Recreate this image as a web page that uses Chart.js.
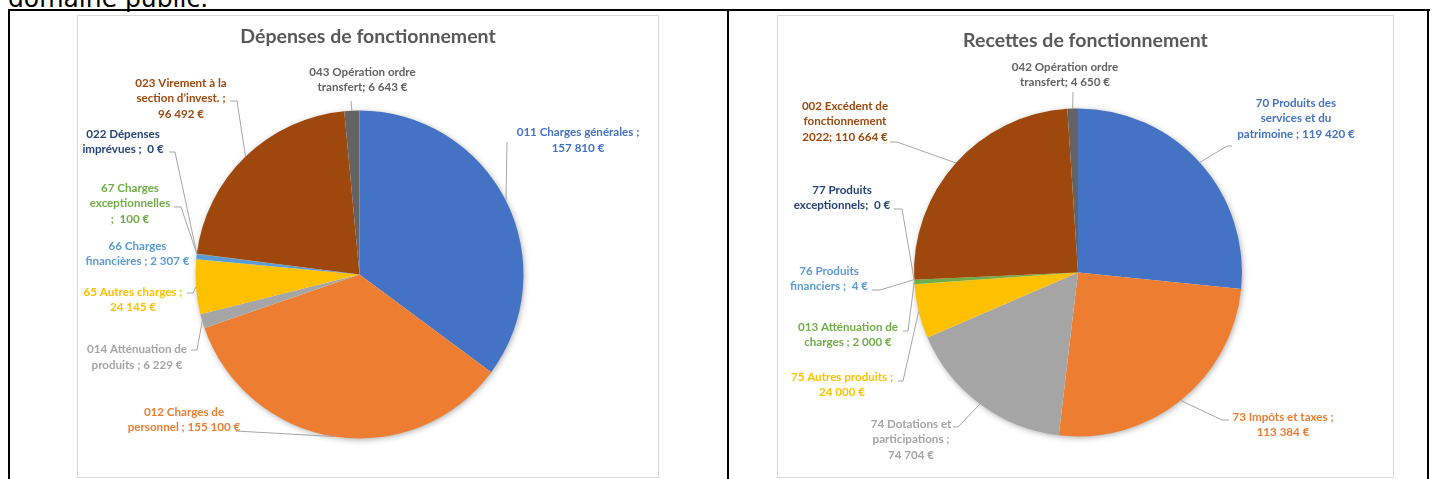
<!DOCTYPE html>
<html><head><meta charset="utf-8">
<script src="https://cdn.jsdelivr.net/npm/chart.js@4/dist/chart.umd.min.js"></script>
<style>
html,body{margin:0;padding:0;background:#fff;width:1435px;height:479px;overflow:hidden;position:relative}
.hdr{position:absolute;left:8px;top:-14px;font:25px/25px 'DejaVu Sans';color:#000;white-space:nowrap}
.ln{position:absolute;background:#000}
.box{position:absolute;border:1px solid #d9d9d9;box-sizing:border-box}
canvas{position:absolute;display:block}
</style></head>
<body>
<div class="hdr">domaine public.</div>
<div class="ln" style="left:8px;top:9px;width:1422px;height:2px"></div>
<div class="ln" style="left:8px;top:9px;width:2px;height:470px"></div>
<div class="ln" style="left:727px;top:9px;width:2px;height:470px"></div>
<div class="ln" style="left:1427px;top:9px;width:2px;height:470px"></div>
<div class="box" style="left:77px;top:15px;width:582px;height:463px"></div>
<div class="box" style="left:777px;top:15px;width:617px;height:463px"></div>
<canvas id="c1" width="582" height="463" style="left:77px;top:15px"></canvas>
<canvas id="c2" width="617" height="463" style="left:777px;top:15px"></canvas>
<script>
// ---------- Data ----------
const depTitle = "Dépenses de fonctionnement";
const depCategories = ["011 Charges générales","012 Charges de personnel","014 Atténuation de produits","65 Autres charges","66 Charges financières","67 Charges exceptionnelles","022 Dépenses imprévues","023 Virement à la section d’invest.","043 Opération ordre transfert"];
const depValues = [157810, 155100, 6229, 24145, 2307, 100, 0, 96492, 6643];
const depLabelLines = [
  ["011 Charges générales ;","{v}"],
  ["012 Charges de","personnel ; {v}"],
  ["014 Atténuation de","produits ; {v}"],
  ["65 Autres charges ;","{v}"],
  ["66 Charges","financières ; {v}"],
  ["67 Charges","exceptionnelles",";  {v}"],
  ["022 Dépenses","imprévues ;  {v}"],
  ["023 Virement à la","section d’invest. ;","{v}"],
  ["043 Opération ordre","transfert; {v}"]
];

const recTitle = "Recettes de fonctionnement";
const recCategories = ["70 Produits des services et du patrimoine","73 Impôts et taxes","74 Dotations et participations","75 Autres produits","013 Atténuation de charges","76 Produits financiers","77 Produits exceptionnels","002 Excédent de fonctionnement 2022","042 Opération ordre transfert"];
const recValues = [119420, 113384, 74704, 24000, 2000, 4, 0, 110664, 4650];
const recLabelLines = [
  ["70 Produits des","services et du","patrimoine ; {v}"],
  ["73 Impôts et taxes ;","{v}"],
  ["74 Dotations et","participations ;","{v}"],
  ["75 Autres produits ;","{v}"],
  ["013 Atténuation de","charges ; {v}"],
  ["76 Produits","financiers ;  {v}"],
  ["77 Produits","exceptionnels;  {v}"],
  ["002 Excédent de","fonctionnement","2022; {v}"],
  ["042 Opération ordre","transfert; {v}"]
];

// ---------- Styles / layout ----------
const depColors = ["#4472C4","#ED7D31","#A5A5A5","#FFC000","#5B9BD5","#70AD47","#264478","#9E480E","#636363"];
const recColors = ["#4472C4","#ED7D31","#A5A5A5","#FFC000","#70AD47","#5B9BD5","#264478","#9E480E","#636363"];

// label block: text centre offset from pie centre, first line y offset, leader points (offsets)
const depLayout = [
  {dx:218.5, dy:-142, lead:[[147.5,-132.5]]},
  {dx:-175.5, dy:137.5, lead:[[-123.5,156.5]]},
  {dx:-222.5, dy:75, lead:[[-168.5,75.5],[-162.5,75.5]]},
  {dx:-226.5, dy:17.5, lead:[[-172.5,18.5],[-166.5,18.5]]},
  {dx:-222, dy:-28.5, lead:null},
  {dx:-229.5, dy:-86.5, lead:[[-185.5,-67.5],[-178.5,-67.5]]},
  {dx:-236.5, dy:-140.5, lead:[[-190.5,-122.5],[-184.5,-122.5]]},
  {dx:-178.5, dy:-191.5, lead:[[-129.5,-173.5],[-122.5,-173.5]]},
  {dx:3, dy:-202.5, lead:[[-8.5,-173.5]]}
];
const recLayout = [
  {dx:218, dy:-169.5, lead:[[154,-126.5],[149,-126.5]]},
  {dx:205, dy:144.5, lead:[[151,147.5],[144,147.5]]},
  {dx:-167, dy:151.5, lead:[[-125,154.5],[-120,154.5]]},
  {dx:-236, dy:104.5, lead:[[-180,108.5],[-175,108.5]]},
  {dx:-230, dy:54.5, lead:[[-175,58.5],[-170,58.5]]},
  {dx:-249, dy:-1.5, lead:[[-206,17.5],[-198,17.5]]},
  {dx:-236, dy:-82.5, lead:[[-184,-63.5],[-176,-63.5]]},
  {dx:-233, dy:-166.5, lead:[[-188,-130.5],[-181,-130.5]]},
  {dx:-13, dy:-205.5, lead:[[-5,-180.5]]}
];

function fmtEuro(v){ return String(v).replace(/\B(?=(\d{3})+(?!\d))/g,' ') + ' €'; }

const pieDecor = {
  id:'pieDecor',
  beforeDatasetsDraw(chart, args, o){
    const el = chart.getDatasetMeta(0).data[0];
    const p = el.getProps(['x','y','outerRadius'], true);
    const ctx = chart.ctx;
    ctx.save();
    ctx.shadowColor = 'rgba(0,0,0,0.35)';
    ctx.shadowBlur = 6; ctx.shadowOffsetX = 1; ctx.shadowOffsetY = 1.5;
    ctx.beginPath(); ctx.arc(p.x, p.y, p.outerRadius - 0.5, 0, Math.PI*2);
    ctx.fillStyle = '#ffffff'; ctx.fill();
    ctx.restore();
  },
  afterDatasetsDraw(chart, args, o){
    const meta = chart.getDatasetMeta(0);
    const ctx = chart.ctx;
    const vals = chart.data.datasets[0].data;
    const cols = chart.data.datasets[0].backgroundColor;
    ctx.save();
    ctx.font = o.titleFont; ctx.fillStyle = '#595959';
    ctx.textAlign = 'center'; ctx.textBaseline = 'middle';
    ctx.fillText(o.title, chart.width/2, o.titleY);
    meta.data.forEach((el, i) => {
      const p = el.getProps(['x','y','startAngle','endAngle','outerRadius'], true);
      const lay = o.layout[i];
      const mid = (p.startAngle + p.endAngle)/2;
      const ex = p.x + Math.cos(mid)*p.outerRadius;
      const ey = p.y + Math.sin(mid)*p.outerRadius;
      if (lay.lead){
        ctx.beginPath();
        ctx.moveTo(p.x + lay.lead[0][0], p.y + lay.lead[0][1]);
        for (let k=1;k<lay.lead.length;k++) ctx.lineTo(p.x + lay.lead[k][0], p.y + lay.lead[k][1]);
        ctx.lineTo(ex, ey);
        ctx.strokeStyle = '#a6a6a6'; ctx.lineWidth = 1; ctx.stroke();
      }
      ctx.font = o.labelFont; ctx.fillStyle = cols[i];
      const lines = o.lines[i].map(s => s.replace('{v}', fmtEuro(vals[i])));
      lines.forEach((s, k) => ctx.fillText(s, p.x + lay.dx, p.y + lay.dy + k*o.lineH));
    });
    ctx.restore();
  }
};

function makePie(id, cats, vals, cols, pad, opts){
  return new Chart(document.getElementById(id), {
    type:'pie',
    data:{labels:cats, datasets:[{data:vals, backgroundColor:cols, borderWidth:0}]},
    options:{
      responsive:false, animation:false,
      layout:{padding:pad},
      plugins:{legend:{display:false}, tooltip:{enabled:false}, title:{display:false}, pieDecor:opts}
    },
    plugins:[pieDecor]
  });
}

makePie('c1', depCategories, depValues, depColors,
  {left:118.5, top:95.5, right:135.5, bottom:39.5},
  {title:depTitle, titleY:22, titleFont:"bold 19.5px Lato", labelFont:"bold 11.6px Lato", lineH:15.5, layout:depLayout, lines:depLabelLines});
makePie('c2', recCategories, recValues, recColors,
  {left:137, top:93.5, right:152, bottom:41.5},
  {title:recTitle, titleY:25.5, titleFont:"bold 19.5px Lato", labelFont:"bold 11.6px Lato", lineH:15.5, layout:recLayout, lines:recLabelLines});
</script>
</body></html>
